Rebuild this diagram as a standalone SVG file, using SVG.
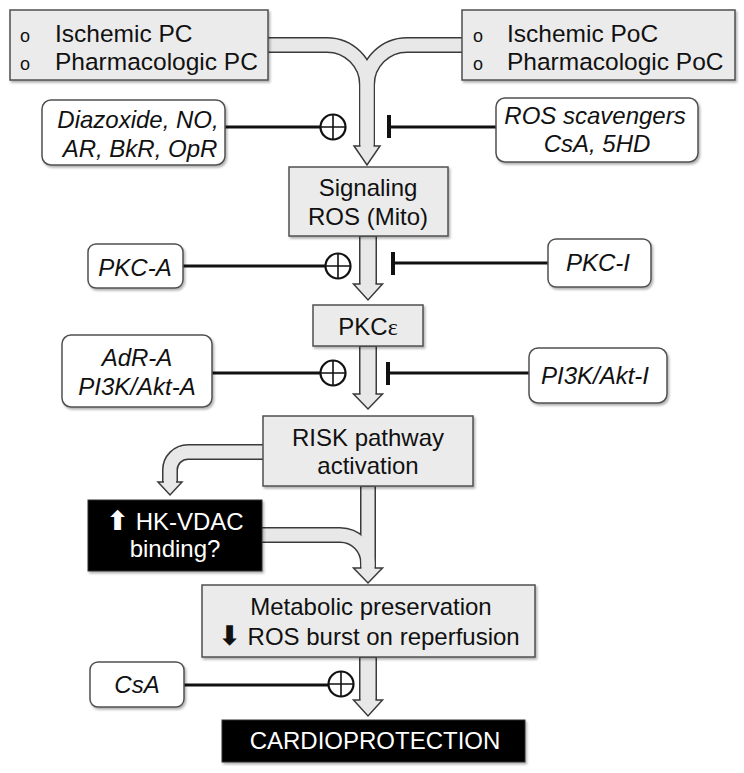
<svg xmlns="http://www.w3.org/2000/svg" width="744" height="773" viewBox="0 0 744 773">
<defs>
<filter id="sh" x="-10%" y="-10%" width="130%" height="140%">
<feDropShadow dx="1.5" dy="2" stdDeviation="1.2" flood-color="#000" flood-opacity="0.3"/>
</filter>
</defs>
<style>
text{font-family:"Liberation Sans",Arial,sans-serif;font-size:24px;fill:#111}
.c{text-anchor:middle}
.it{font-style:italic}
.w{fill:#fff}
.bul{font-size:18px}
.box{fill:#ebebeb;stroke:#505050;stroke-width:1.5;filter:url(#sh)}
.pill{fill:#fff;stroke:#505050;stroke-width:1.5;filter:url(#sh)}
.blk{fill:#000;stroke:#333;stroke-width:1;filter:url(#sh)}
.ao{fill:none;stroke:#3a3a3a;stroke-width:18}
.ai{fill:none;stroke:#e8e8e8;stroke-width:15}
.ao2{fill:none;stroke:#3a3a3a;stroke-width:16}
.ai2{fill:none;stroke:#e8e8e8;stroke-width:13}
.hd{fill:#e8e8e8;stroke:#3a3a3a;stroke-width:1.5;stroke-linejoin:miter}
.ln{fill:none;stroke:#111;stroke-width:3}
.bar{fill:none;stroke:#111;stroke-width:4}
.pl{fill:#fff;stroke:#111;stroke-width:2.2}
.cr{stroke:#111;stroke-width:1.6}
.sym{font-family:"DejaVu Sans","Noto Sans",sans-serif;font-size:27px;font-weight:bold}
</style>

<g id="connectors">
  <!-- top merged arrow -->
  <path class="ao2" d="M268,45 H327 A40,40 0 0 1 367,85 V147"/>
  <path class="ao2" d="M462,45 H407 A40,40 0 0 0 367,85 V147"/>
  <path class="ai2" d="M266,45 H327 A40,40 0 0 1 367,85 V148"/>
  <path class="ai2" d="M464,45 H407 A40,40 0 0 0 367,85 V148"/>
  <path class="hd" d="M360.5,146 L354,146 L367,165 L380,146 L373.5,146"/>

  <!-- Signaling -> PKCe -->
  <path class="ao" d="M368,236 V285"/>
  <path class="ai" d="M368,236.8 V286"/>
  <path class="hd" d="M360.5,284 L353.5,284 L368,300 L382.5,284 L375.5,284"/>

  <!-- PKCe -> RISK -->
  <path class="ao" d="M368,346 V395"/>
  <path class="ai" d="M368,346.8 V396"/>
  <path class="hd" d="M360.5,394 L353.5,394 L368,409 L382.5,394 L375.5,394"/>

  <!-- RISK -> HK-VDAC -->
  <path class="ao2" d="M263,452 H188 A18,18 0 0 0 170,470 V483"/>
  <path class="ai2" d="M264,452 H188 A18,18 0 0 0 170,470 V484"/>
  <path class="hd" d="M164,482 L158,482 L170,495 L182,482 L176,482"/>

  <!-- RISK -> Metabolic and HK-VDAC -> Metabolic -->
  <path class="ao2" d="M368,486 V569"/>
  <path class="ao2" d="M262,535 H340 A28,28 0 0 1 368,563 V569"/>
  <path class="ai2" d="M368,486.8 V570"/>
  <path class="ai2" d="M261,535 H340 A28,28 0 0 1 368,563 V570"/>
  <path class="hd" d="M361.5,568 L353.5,568 L368,583 L382.5,568 L374.5,568"/>

  <!-- Metabolic -> Cardioprotection -->
  <path class="ao" d="M368,657 V701"/>
  <path class="ai" d="M368,657.8 V702"/>
  <path class="hd" d="M360.5,700 L353.5,700 L368,716 L382.5,700 L375.5,700"/>

  <!-- modulators -->
  <path class="ln" d="M225,127 H321"/>
  <circle class="pl" cx="333" cy="127" r="12.5"/>
  <path class="cr" d="M321,127 H345 M333,115 V139"/>

  <path class="ln" d="M496,127 H389"/>
  <path class="bar" d="M389,115 V138"/>

  <path class="ln" d="M183,266 H326"/>
  <circle class="pl" cx="338" cy="266" r="12.5"/>
  <path class="cr" d="M326,266 H350 M338,254 V278"/>

  <path class="ln" d="M548,263 H393"/>
  <path class="bar" d="M393,252 V275"/>

  <path class="ln" d="M212,373 H321"/>
  <circle class="pl" cx="333" cy="373" r="12.5"/>
  <path class="cr" d="M321,373 H345 M333,361 V385"/>

  <path class="ln" d="M529,373 H388"/>
  <path class="bar" d="M388,362 V385"/>

  <path class="ln" d="M184,685 H329"/>
  <circle class="pl" cx="341" cy="684" r="12.5"/>
  <path class="cr" d="M329,684 H353 M341,672 V696"/>
</g>

<g id="pc">
  <rect class="box" x="10" y="10" width="258" height="70"/>
  <text class="bul" x="20" y="42">o</text>
  <text x="55" y="42" style="font-size:24.5px">Ischemic PC</text>
  <text class="bul" x="20" y="70">o</text>
  <text x="55" y="70" style="font-size:24.5px">Pharmacologic PC</text>
</g>

<g id="poc">
  <rect class="box" x="462" y="10" width="273" height="70"/>
  <text class="bul" x="473" y="42">o</text>
  <text x="507" y="42" style="font-size:24.5px">Ischemic PoC</text>
  <text class="bul" x="473" y="70">o</text>
  <text x="507" y="70" style="font-size:24.5px">Pharmacologic PoC</text>
</g>

<g id="diazoxide">
  <rect class="pill" x="42" y="100" width="183" height="65" rx="9"/>
  <text class="c it" x="138" y="128">Diazoxide, NO,</text>
  <text class="c it" x="140" y="157">AR, BkR, OpR</text>
</g>

<g id="scavengers">
  <rect class="pill" x="496" y="98" width="202" height="64" rx="9"/>
  <text class="c it" x="595" y="124">ROS scavengers</text>
  <text class="c it" x="597" y="152">CsA, 5HD</text>
</g>

<g id="signaling">
  <rect class="box" x="289" y="167" width="159" height="69"/>
  <text class="c" x="368" y="196">Signaling</text>
  <text class="c" x="368" y="225">ROS (Mito)</text>
</g>

<g id="pkca">
  <rect class="pill" x="88" y="244" width="95" height="44" rx="8"/>
  <text class="c it" x="135" y="276">PKC-A</text>
</g>

<g id="pkci">
  <rect class="pill" x="548" y="239" width="103" height="48" rx="8"/>
  <text class="c it" x="598" y="271">PKC-I</text>
</g>

<g id="pkce">
  <rect class="box" x="313" y="305" width="110" height="41"/>
  <text class="c" x="368" y="335">PKC<tspan style="font-family:'Liberation Serif',serif;font-size:24px">ε</tspan></text>
</g>

<g id="adra">
  <rect class="pill" x="62" y="335" width="150" height="72" rx="9"/>
  <text class="c it" x="137" y="366">AdR-A</text>
  <text class="c it" x="137" y="395">PI3K/Akt-A</text>
</g>

<g id="pi3ki">
  <rect class="pill" x="529" y="348" width="138" height="55" rx="9"/>
  <text class="c it" x="595" y="384">PI3K/Akt-I</text>
</g>

<g id="risk">
  <rect class="box" x="263" y="416" width="210" height="70"/>
  <text class="c" x="368" y="446">RISK pathway</text>
  <text class="c" x="368" y="474">activation</text>
</g>

<g id="hkvdac">
  <rect class="blk" x="88" y="500" width="174" height="71"/>
  <text class="c w" x="175" y="530"><tspan class="sym w">⬆</tspan> HK-VDAC</text>
  <text class="c w" x="175" y="557">binding?</text>
</g>

<g id="metabolic">
  <rect class="box" x="202" y="585" width="333" height="72"/>
  <text class="c" x="371" y="615">Metabolic preservation</text>
  <text class="c" x="369" y="645"><tspan class="sym">⬇</tspan> ROS burst on reperfusion</text>
</g>

<g id="csa">
  <rect class="pill" x="90" y="662" width="94" height="45" rx="8"/>
  <text class="c it" x="137" y="693">CsA</text>
</g>

<g id="cardioprotection">
  <rect class="blk" x="222" y="720" width="303" height="42"/>
  <text class="c w" x="375" y="749">CARDIOPROTECTION</text>
</g>
</svg>
